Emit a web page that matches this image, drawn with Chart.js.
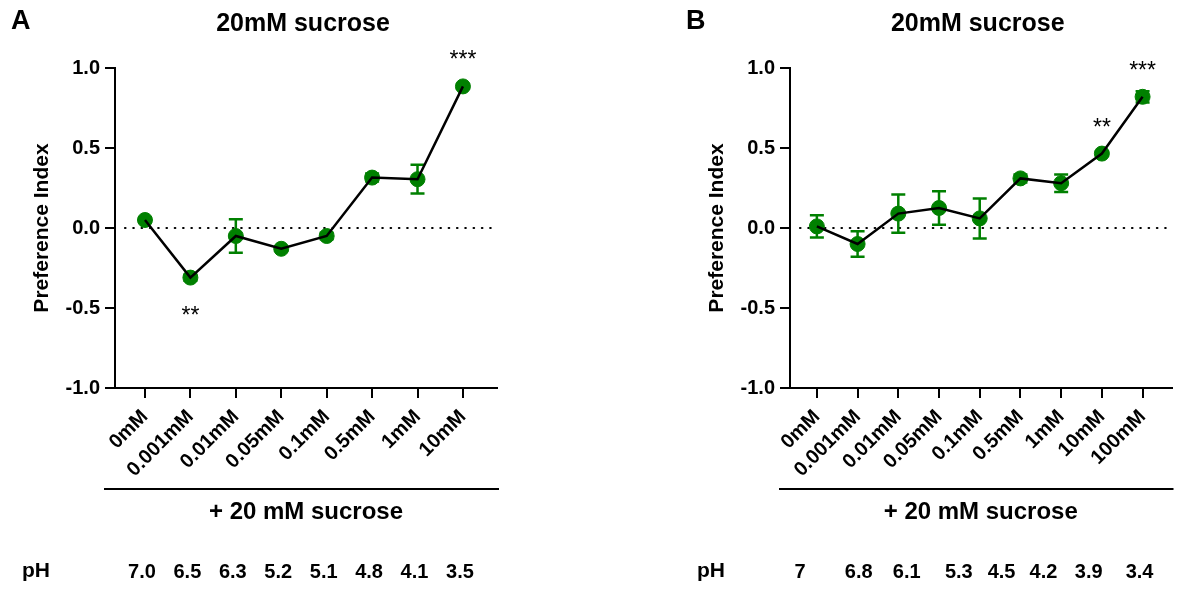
<!DOCTYPE html>
<html>
<head>
<meta charset="utf-8">
<script src="https://cdn.jsdelivr.net/npm/chart.js@4.4.0/dist/chart.umd.min.js"></script>
<style>
  body { margin: 0; background: #fff; }
  #wrap { position: relative; width: 1180px; height: 590px; }
  canvas { position: absolute; top: 0; }
</style>
</head>
<body>
<div id="wrap">
  <canvas id="chartA" width="590" height="590" style="left:0"></canvas>
  <canvas id="chartB" width="590" height="590" style="left:590px"></canvas>
</div>
<script>
// panel A
const labelsA = ['0mM', '0.001mM', '0.01mM', '0.05mM', '0.1mM', '0.5mM', '1mM', '10mM'];
const meanA = [0.05, -0.31, -0.05, -0.13, -0.05, 0.315, 0.305, 0.885];
const semA = [0.012, 0.02, 0.105, 0.012, 0.02, 0.025, 0.09, 0.015];
const starsA = ['', '**', '', '', '', '', '', '***'];
const starSideA = [0, -1, 0, 0, 0, 0, 0, 1];
const phA = ['7.0', '6.5', '6.3', '5.2', '5.1', '4.8', '4.1', '3.5'];
const phPosA = [0, 1, 2, 3, 4, 5, 6, 7];

// panel B
const labelsB = ['0mM', '0.001mM', '0.01mM', '0.05mM', '0.1mM', '0.5mM', '1mM', '10mM', '100mM'];
const meanB = [0.01, -0.10, 0.09, 0.125, 0.06, 0.31, 0.28, 0.465, 0.82];
const semB = [0.07, 0.08, 0.12, 0.105, 0.125, 0.025, 0.055, 0.015, 0.035];
const starsB = ['', '', '', '', '', '', '', '**', '***'];
const starSideB = [0, 0, 0, 0, 0, 0, 0, 1, 1];
const phB = ['7', '6.8', '6.1', '5.3', '4.5', '4.2', '3.9', '3.4'];
const phPosB = [-0.34, 1.1, 2.28, 3.56, 4.61, 5.64, 6.75, 8.0];

const yTicks = [-1, -0.5, 0, 0.5, 1];
const GREEN = '#008000';
const FONT = "'Liberation Sans', Arial, Helvetica, sans-serif";

Chart.defaults.font.family = FONT;
Chart.defaults.color = '#000';

function makeChart(id, p) {
  const pts = p.mean.map((y, i) => ({ x: i, y: y }));

  // error bars + dotted zero line under the markers
  const errorBars = {
    id: 'errorBars',
    beforeDatasetsDraw(chart) {
      const { ctx, chartArea, scales: { x, y } } = chart;
      ctx.save();
      ctx.strokeStyle = '#000';
      ctx.lineWidth = 2.2;
      ctx.lineCap = 'round';
      ctx.setLineDash([0.5, 7.8]);
      const y0 = y.getPixelForValue(0);
      ctx.beginPath();
      ctx.moveTo(chartArea.left + 10, y0);
      ctx.lineTo(chartArea.right, y0);
      ctx.stroke();
      ctx.setLineDash([]);
      ctx.lineCap = 'butt';

      ctx.strokeStyle = GREEN;
      ctx.lineWidth = 2.5;
      p.mean.forEach((m, i) => {
        const px = x.getPixelForValue(i);
        const top = y.getPixelForValue(m + p.sem[i]);
        const bot = y.getPixelForValue(m - p.sem[i]);
        ctx.beginPath();
        ctx.moveTo(px, top); ctx.lineTo(px, bot);
        ctx.moveTo(px - 7, top); ctx.lineTo(px + 7, top);
        ctx.moveTo(px - 7, bot); ctx.lineTo(px + 7, bot);
        ctx.stroke();
      });
      ctx.restore();
    }
  };

  // titles, significance stars, bracket and pH row
  const panelText = {
    id: 'panelText',
    afterDraw(chart) {
      const { ctx, chartArea, scales: { x, y } } = chart;
      const cx = (chartArea.left + chartArea.right) / 2;
      ctx.save();
      ctx.fillStyle = '#000';
      ctx.textBaseline = 'middle';

      ctx.font = 'bold 27px ' + FONT;
      ctx.textAlign = 'left';
      ctx.fillText(p.letter, chartArea.left - 104, 22);
      ctx.font = 'bold 25px ' + FONT;
      ctx.textAlign = 'center';
      ctx.fillText('20mM sucrose', cx - 3, 24);

      ctx.font = '23px ' + FONT;
      ctx.textBaseline = 'alphabetic';
      p.stars.forEach((s, i) => {
        if (!s) return;
        const py = y.getPixelForValue(p.mean[i]);
        const c = p.starSide[i] > 0 ? py - 33 : py + 31;
        ctx.fillText(s, x.getPixelForValue(i), c + 14);
      });

      ctx.strokeStyle = '#000';
      ctx.lineWidth = 2;
      ctx.beginPath();
      ctx.moveTo(chartArea.left - 11, 489);
      ctx.lineTo(chartArea.right + 2, 489);
      ctx.stroke();

      ctx.textBaseline = 'middle';
      ctx.font = 'bold 24px ' + FONT;
      ctx.fillText('+ 20 mM sucrose', cx, 512);

      ctx.font = 'bold 21px ' + FONT;
      ctx.fillText('pH', chartArea.left - 79, 571);
      ctx.font = 'bold 20px ' + FONT;
      p.ph.forEach((v, i) => {
        ctx.fillText(v, x.getPixelForValue(p.phPos[i]) - 3, 572);
      });
      ctx.restore();
    }
  };

  return new Chart(document.getElementById(id), {
    type: 'line',
    data: {
      datasets: [{
        data: pts,
        borderColor: '#000',
        borderWidth: 2.5,
        pointRadius: 0,
        order: 0
      }, {
        data: pts,
        showLine: false,
        pointRadius: 7.5,
        pointBackgroundColor: GREEN,
        pointBorderColor: GREEN,
        pointBorderWidth: 1,
        order: 1
      }]
    },
    options: {
      responsive: false,
      animation: false,
      devicePixelRatio: 1,
      layout: { padding: { top: 68, bottom: 102, left: p.padLeft, right: p.padRight } },
      plugins: { legend: { display: false }, tooltip: { enabled: false } },
      scales: {
        x: {
          type: 'linear',
          min: p.xMin,
          max: p.xMax,
          afterBuildTicks: s => { s.ticks = p.labels.map((_, i) => ({ value: i })); },
          afterFit: s => { s.height = 100; },
          grid: { drawOnChartArea: false, color: '#000', lineWidth: 2, tickLength: 10 },
          border: { display: true, color: '#000', width: 2 },
          ticks: {
            autoSkip: false,
            minRotation: 45,
            maxRotation: 45,
            padding: 7,
            font: { size: 20, weight: 'bold' },
            callback: v => p.labels[v]
          }
        },
        y: {
          min: -1,
          max: 1,
          afterBuildTicks: s => { s.ticks = yTicks.map(v => ({ value: v })); },
          afterFit: s => { s.width = 85; },
          grid: { drawOnChartArea: false, color: '#000', lineWidth: 2, tickLength: 10 },
          border: { display: true, color: '#000', width: 2 },
          ticks: {
            padding: 5,
            font: { size: 20, weight: 'bold' },
            callback: v => v.toFixed(1)
          },
          title: {
            display: true,
            text: 'Preference Index',
            padding: 0,
            font: { size: 21, weight: 'bold' }
          }
        }
      }
    },
    plugins: [errorBars, panelText]
  });
}

makeChart('chartA', {
  letter: 'A', labels: labelsA, mean: meanA, sem: semA,
  stars: starsA, starSide: starSideA, ph: phA, phPos: phPosA,
  xMin: -0.66, xMax: 7.75, padLeft: 30, padRight: 93
});

makeChart('chartB', {
  letter: 'B', labels: labelsB, mean: meanB, sem: semB,
  stars: starsB, starSide: starSideB, ph: phB, phPos: phPosB,
  xMin: -0.66, xMax: 8.71, padLeft: 115, padRight: 8
});
</script>
</body>
</html>
